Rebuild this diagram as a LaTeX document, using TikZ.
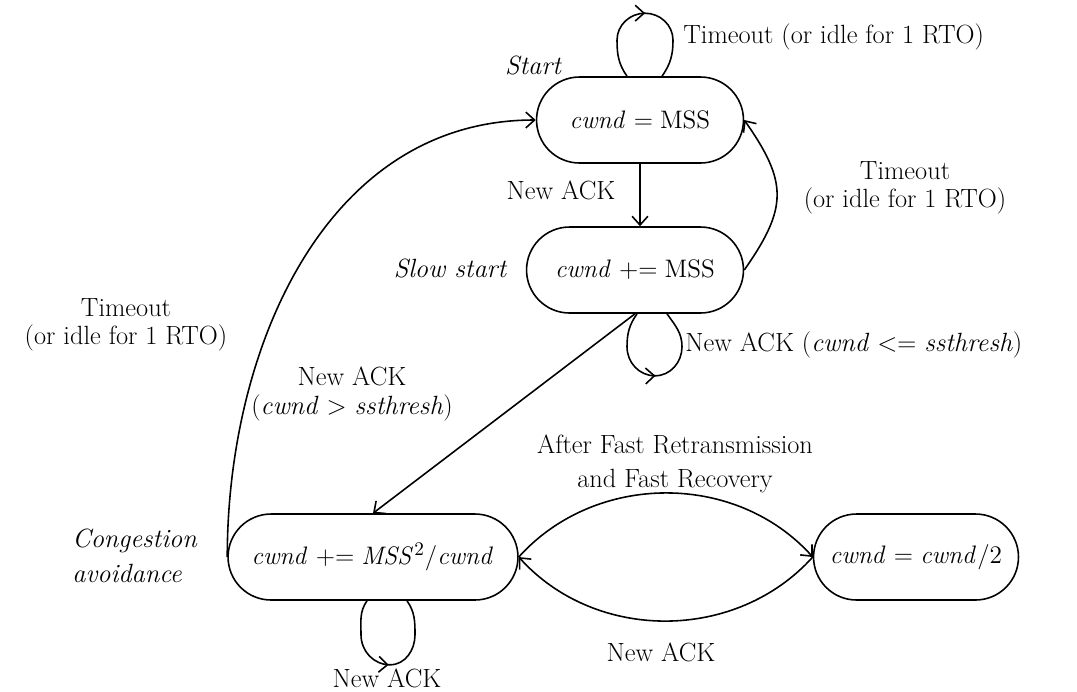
\documentclass[tikz,border=0pt]{standalone}
\usetikzlibrary{calc,decorations.markings,arrows.meta,shapes.misc}
\begin{document}
\begin{tikzpicture}[x=0.02cm,y=-0.02cm]
\tikzset{
  state/.style={draw, line width=0.9pt, rounded rectangle, minimum height=1.72cm, inner sep=2pt, font=\fontsize{15}{16}\selectfont},
  edge/.style={line width=0.9pt, -{Straight Barb[length=5pt,width=9pt]}},
  loopedge/.style={line width=0.9pt, postaction={decorate},
    decoration={markings, mark=at position 0.5 with {\arrow{Straight Barb[length=5pt,width=9pt]}}}},
  lbl/.style={font=\fontsize{15}{16}\selectfont, inner sep=0pt, align=center},
}
\useasboundingbox (0,0) rectangle (1077,691);

% states
\node[state, minimum width=4.28cm] (start) at (640,120) {$\mathit{cwnd} = \mathrm{MSS}$};
\node[state, minimum width=4.48cm] (slow) at (635,270) {$\mathit{cwnd} \mathrel{+}= \mathrm{MSS}$};
\node[state, minimum width=5.94cm] (ca) at (373,557) {$\mathit{cwnd} \mathrel{+}= \mathit{MSS}^2/\mathit{cwnd}$};
\node[state, minimum width=4.24cm] (half) at (916,557) {$\mathit{cwnd} = \mathit{cwnd}/2$};

% state names
\node[lbl] (nstart) at (533,65) {\itshape Start};
\node[lbl] (nslow) at (450,268) {\itshape Slow start};
\node[lbl, align=left, anchor=west] (nca) at (72,556) {\itshape Congestion\\[4pt]\itshape avoidance};

% start self loop
\draw[loopedge] ($(start.north)+(-13,0)$) to[out=125,in=-90] ($(start.north)+(-23,-36)$)
  to[out=90,in=180] ($(start.north)+(5,-63)$) to[out=0,in=90] ($(start.north)+(33,-36)$)
  to[out=-90,in=55] ($(start.north)+(22,0)$);
\node[lbl, anchor=west] (l1) at (683,37) {Timeout (or idle for 1 RTO)};

% start -> slow
\draw[edge] (start.south) -- (start.south |- slow.north);
\node[lbl] (l2) at (561,190) {New ACK};

% slow -> start
\draw[edge] (slow.east) to[out=55,in=-55,looseness=1.3] (start.east);
\node[lbl] (l3) at (905,188) {Timeout\\(or idle for 1 RTO)};

% slow self loop
\draw[loopedge] ($(slow.south)+(2,0)$) to[out=-125,in=90] ($(slow.south)+(-8,33)$)
  to[out=-90,in=180] ($(slow.south)+(20,62)$) to[out=0,in=-90] ($(slow.south)+(47,33)$)
  to[out=90,in=-55] ($(slow.south)+(32,0)$);
\node[lbl, anchor=west] (l4) at (685,345) {New ACK (\textit{cwnd} <= \textit{ssthresh})};

% slow -> ca
\draw[edge] (slow.south) -- (ca.north);
\node[lbl] (l5) at (352,394) {New ACK\\(\textit{cwnd} > \textit{ssthresh})};

% ca -> start
\draw[edge] (ca.west) to[out=90,in=180,looseness=1.0] (start.west);
\node[lbl] (l6) at (126,325) {Timeout\\(or idle for 1 RTO)};

% ca self loop
\draw[loopedge] ($(ca.south)+(-6,0)$) to[out=-125,in=90] ($(ca.south)+(-12,34)$)
  to[out=-90,in=180] ($(ca.south)+(17,64)$) to[out=0,in=-90] ($(ca.south)+(42,34)$)
  to[out=90,in=-55] ($(ca.south)+(34,0)$);
\node[lbl] (l7) at (387,678) {New ACK};

% ca <-> half
\draw[edge] (ca.east) to[bend left=48] (half.west);
\draw[edge] (half.west) to[bend left=48] (ca.east);
\node[lbl] (l8) at (675,464) {After Fast Retransmission\\[3pt]and Fast Recovery};
\node[lbl] (l9) at (661,652) {New ACK};
\end{tikzpicture}
\end{document}
